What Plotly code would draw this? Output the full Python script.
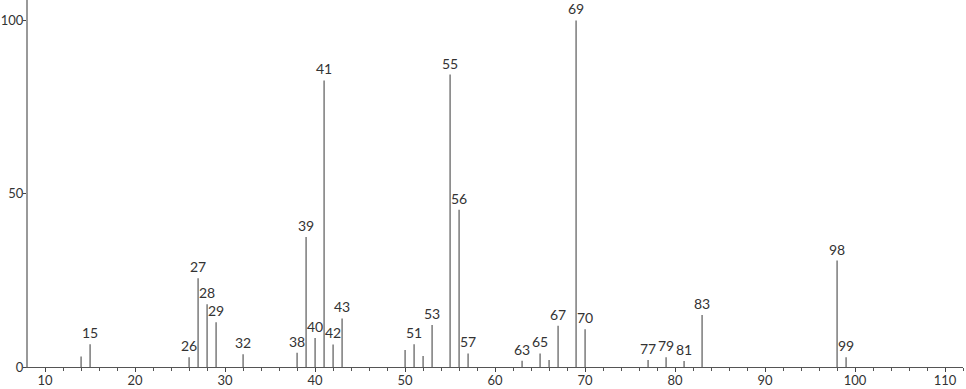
import plotly.graph_objects as go

mz = [14, 15, 26, 27, 28, 29, 32, 38, 39, 40, 41, 42, 43, 50, 51, 52, 53, 55, 56, 57,
      63, 65, 66, 67, 69, 70, 77, 79, 81, 83, 98, 99]
intensity = [3.0, 6.6, 2.8, 25.6, 18.1, 12.9, 3.7, 4.1, 37.5, 8.4, 82.7, 6.5, 14.0, 4.9,
             6.6, 3.2, 12.1, 84.4, 45.4, 3.9, 1.8, 3.9, 2.0, 11.9, 100.0, 10.9, 2.0, 2.8,
             1.7, 15.0, 30.7, 2.8]
labelled = [15, 26, 27, 28, 29, 32, 38, 39, 40, 41, 42, 43, 51, 53, 55, 56, 57, 63, 65,
            67, 69, 70, 77, 79, 81, 83, 98, 99]

FONT = "Lato"
TXT = "#333"

xs, ys = [], []
for m, v in zip(mz, intensity):
    xs += [m, m, None]
    ys += [0, v, None]

fig = go.Figure()
fig.add_trace(go.Scatter(x=xs, y=ys, mode="lines",
                         line=dict(color="#7a7a7a", width=1.5),
                         hoverinfo="skip", showlegend=False))

for m, v in zip(mz, intensity):
    if m in labelled:
        fig.add_annotation(x=m, y=v, text=str(m), showarrow=False,
                           yanchor="bottom", xanchor="center", yshift=1,
                           font=dict(family=FONT, size=14, color=TXT))

fig.update_layout(
    width=966, height=389,
    margin=dict(l=28, r=3, t=0, b=22),
    paper_bgcolor="white", plot_bgcolor="white",
    xaxis=dict(range=[8.1, 111.99], tickmode="linear", tick0=10, dtick=10,
               ticks="outside", ticklen=4, tickcolor="#444", tickwidth=1,
               showgrid=False, zeroline=False, showline=True, linecolor="#555",
               linewidth=1, automargin=False, ticklabelstandoff=-3,
               minor=dict(tickmode="linear", tick0=10, dtick=2, ticks="outside",
                          ticklen=3, tickcolor="#555", showgrid=False),
               tickfont=dict(family=FONT, size=13, color=TXT)),
    yaxis=dict(range=[0, 105.9], tickvals=[0, 50, 100], ticks="outside", ticklen=3,
               tickcolor="#444", showgrid=False, zeroline=False, showline=True,
               linecolor="#999", linewidth=2, automargin=False, ticklabelstandoff=-3,
               tickfont=dict(family=FONT, size=13, color=TXT)),
)

fig.write_html("out.html")
